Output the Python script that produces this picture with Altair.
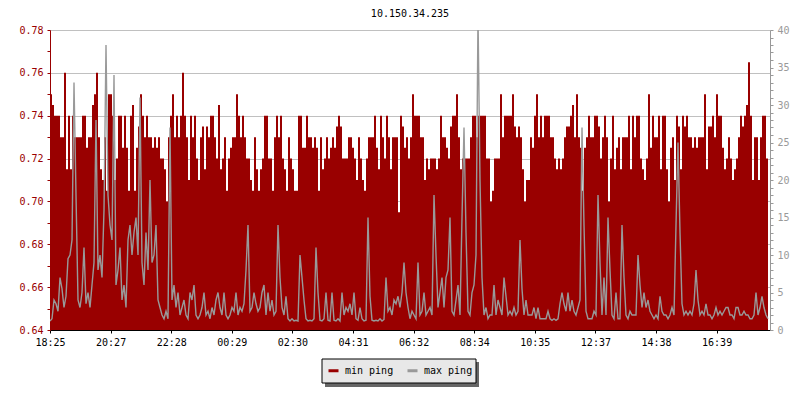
import json
import altair as alt
import pandas as pd

chart_title = "10.150.34.235"
series_names = ["min ping", "max ping"]
series_colors = ["#990000", "#999999"]
x_tick_labels = ["18:25", "20:27", "22:28", "00:29", "02:30", "04:31",
                 "06:32", "08:34", "10:35", "12:37", "14:38", "16:39"]
minutes_per_sample = 4

# left axis series
min_ping = [
    0.750, 0.745, 0.740, 0.740, 0.740, 0.730, 0.730, 0.760, 0.715, 0.740,
    0.715, 0.740, 0.730, 0.730, 0.730, 0.730, 0.740, 0.740, 0.725, 0.730,
    0.730, 0.745, 0.750, 0.760, 0.730, 0.715, 0.710, 0.730, 0.705, 0.750,
    0.750, 0.740, 0.710, 0.720, 0.740, 0.740, 0.725, 0.740, 0.725, 0.705,
    0.740, 0.745, 0.705, 0.725, 0.735, 0.750, 0.740, 0.730, 0.740, 0.730,
    0.730, 0.725, 0.730, 0.725, 0.730, 0.720, 0.720, 0.715, 0.700, 0.730,
    0.740, 0.750, 0.730, 0.740, 0.730, 0.740, 0.760, 0.740, 0.730, 0.710,
    0.740, 0.730, 0.740, 0.720, 0.710, 0.730, 0.735, 0.715, 0.735, 0.730,
    0.740, 0.740, 0.730, 0.720, 0.745, 0.715, 0.720, 0.730, 0.705, 0.720,
    0.725, 0.730, 0.730, 0.750, 0.740, 0.730, 0.740, 0.730, 0.720, 0.720,
    0.710, 0.705, 0.730, 0.715, 0.705, 0.715, 0.720, 0.740, 0.740, 0.720,
    0.720, 0.705, 0.730, 0.740, 0.730, 0.740, 0.720, 0.715, 0.705, 0.730,
    0.720, 0.715, 0.705, 0.705, 0.740, 0.740, 0.725, 0.725, 0.740, 0.730,
    0.730, 0.725, 0.730, 0.725, 0.705, 0.730, 0.715, 0.720, 0.730, 0.720,
    0.725, 0.730, 0.725, 0.735, 0.740, 0.735, 0.720, 0.720, 0.720, 0.730,
    0.730, 0.725, 0.720, 0.710, 0.730, 0.720, 0.710, 0.705, 0.720, 0.730,
    0.730, 0.730, 0.740, 0.725, 0.715, 0.740, 0.730, 0.720, 0.740, 0.730,
    0.715, 0.730, 0.730, 0.730, 0.695, 0.740, 0.735, 0.725, 0.730, 0.720,
    0.730, 0.750, 0.740, 0.740, 0.740, 0.730, 0.730, 0.710, 0.720, 0.715,
    0.720, 0.720, 0.720, 0.715, 0.720, 0.740, 0.730, 0.730, 0.725, 0.720,
    0.735, 0.740, 0.740, 0.750, 0.730, 0.715, 0.720, 0.720, 0.720, 0.720,
    0.730, 0.740, 0.740, 0.730, 0.740, 0.740, 0.740, 0.740, 0.720, 0.720,
    0.700, 0.705, 0.720, 0.720, 0.720, 0.750, 0.730, 0.740, 0.740, 0.740,
    0.740, 0.750, 0.735, 0.730, 0.735, 0.730, 0.715, 0.700, 0.710, 0.710,
    0.730, 0.725, 0.740, 0.750, 0.730, 0.740, 0.730, 0.740, 0.740, 0.740,
    0.730, 0.730, 0.720, 0.715, 0.720, 0.715, 0.720, 0.730, 0.735, 0.735,
    0.740, 0.745, 0.730, 0.750, 0.730, 0.725, 0.705, 0.725, 0.730, 0.740,
    0.730, 0.730, 0.740, 0.740, 0.735, 0.720, 0.730, 0.740, 0.730, 0.700,
    0.720, 0.740, 0.715, 0.725, 0.730, 0.715, 0.730, 0.730, 0.730, 0.740,
    0.715, 0.740, 0.730, 0.740, 0.740, 0.720, 0.715, 0.710, 0.720, 0.750,
    0.725, 0.740, 0.730, 0.730, 0.740, 0.715, 0.740, 0.740, 0.715, 0.700,
    0.725, 0.730, 0.710, 0.740, 0.735, 0.715, 0.740, 0.735, 0.740, 0.730,
    0.730, 0.725, 0.730, 0.725, 0.730, 0.730, 0.730, 0.750, 0.715, 0.735,
    0.735, 0.740, 0.730, 0.750, 0.740, 0.740, 0.725, 0.715, 0.720, 0.730,
    0.720, 0.710, 0.715, 0.720, 0.730, 0.740, 0.735, 0.740, 0.745, 0.765,
    0.740, 0.710, 0.730, 0.730, 0.710, 0.730, 0.740, 0.740, 0.720, 0.725,
]

# right axis series
max_ping = [
    1.2, 1.5, 4, 3.5, 2.5, 7, 5.5, 3, 4.5, 9.5,
    10, 12, 33, 18, 4, 3, 5, 11, 3.5, 5,
    3, 6, 9, 28, 8, 10, 7, 16, 38, 18,
    14, 12, 34, 6, 8, 11, 4, 6, 3, 12,
    14, 10, 13, 15, 10, 31, 9, 6, 13, 8,
    20, 9, 10, 14, 4, 3, 2, 1.5, 2.5, 1.5,
    27, 4, 6, 3, 5, 2, 3, 4, 2, 1.5,
    5, 4, 6, 2, 1.5, 2, 3, 5, 2, 2.5,
    1.5, 3, 2, 4, 5, 3, 2, 5, 2, 1.5,
    2, 3, 2.5, 5, 2, 3, 2.5, 3.5, 8, 14,
    2.5, 3, 5, 3.5, 2.5, 3, 5, 6, 2, 5,
    2.5, 4, 2, 2.5, 14, 7, 3, 2, 4.5, 1.5,
    1.2, 1.5, 1.2, 1.3, 1.2, 10, 7, 4, 1.5, 1.2,
    1.3, 1.2, 1.5, 11, 5, 1.3, 1.2, 1.5, 5, 1.3,
    1.2, 5, 1.3, 1.2, 1.5, 1.2, 5, 2, 3, 2.5,
    3.5, 2, 5, 1.5, 1.3, 3, 1.5, 1.2, 1.3, 15,
    4.5, 1.3, 1.2, 1.3, 1.2, 1.5, 1.2, 1.4, 7, 2.5,
    3, 2, 4, 3.5, 4.5, 3, 5, 9, 5, 3,
    1.5, 2.5, 2, 1.5, 9, 2, 2.5, 5, 2, 2.5,
    3, 2, 18, 10, 3, 5, 7, 3, 7, 8,
    15, 2.5, 2, 4, 6, 2, 15, 27, 13, 2.5,
    2, 5, 6, 10, 42, 20, 7, 2, 3, 1.5,
    2, 2, 6, 2, 4, 3, 2, 7, 4.5, 2,
    2.5, 2, 3, 2, 2.5, 12, 5.5, 2, 4, 2,
    2, 2, 3, 1.5, 3, 1.5, 1.5, 1.5, 1.5, 2.5,
    1.5, 1.3, 1.5, 1.3, 1.5, 3.5, 5, 3.5, 2.5, 5,
    2.5, 4, 2.5, 2, 3, 4, 27, 14, 2.5, 1.5,
    1.5, 1.5, 2.5, 2, 18, 9, 2, 7, 2, 15,
    8, 2, 1.5, 5, 1.5, 1.5, 14, 7, 2, 1.5,
    2.5, 2, 2, 2, 10, 6, 3, 5, 3, 4,
    2.5, 2, 1.5, 2, 1.5, 4.5, 2.5, 2, 2, 1.5,
    2, 3, 2, 14, 25, 13, 3.5, 2, 2.5, 2,
    2.5, 2, 3.5, 8, 4, 2, 2.5, 2, 3.5, 2,
    2, 1.5, 2, 3, 2, 2.5, 2, 2.5, 3, 3,
    2, 2, 1.5, 3, 3, 2, 2, 2.5, 2, 2,
    1.5, 1.5, 2, 5, 2, 3, 4.5, 3, 2, 1.5,
]

df = pd.DataFrame({
    "t": [i * minutes_per_sample for i in range(len(min_ping))],
    "min_ping": min_ping,
    "max_ping": max_ping,
})

FONT = "DejaVu Sans Mono"
W, H = 720, 300
TOTAL_MIN = 1440
tick_step = 121.2
x_tick_values = [round(i * tick_step, 1) for i in range(len(x_tick_labels))]
x_label_expr = json.dumps(x_tick_labels) + "[round(datum.value / %s)]" % tick_step

x_scale = alt.Scale(domain=[0, TOTAL_MIN], nice=False, zero=False)
x_axis = alt.Axis(values=x_tick_values, labelExpr=x_label_expr, title=None, grid=False,
                  domainColor="black", tickColor="black", labelColor="black",
                  labelFont=FONT, labelFontSize=10, tickSize=3, labelPadding=4,
                  labelFlush=False, labelOverlap=False)
x_enc = alt.X("t:Q", scale=x_scale, axis=x_axis)

left_vals = [round(0.64 + 0.01 * i, 2) for i in range(15)]
left_major = "round(datum.value * 100) % 2 == 0"
y_left = alt.Y(
    "min_ping:Q",
    scale=alt.Scale(domain=[0.64, 0.78], nice=False, zero=False),
    axis=alt.Axis(values=left_vals, title=None,
                  labelExpr=left_major + " ? format(datum.value, '.2f') : ''",
                  domainColor="#990000", tickColor="#990000", labelColor="#990000",
                  labelFont=FONT, labelFontSize=10, tickSize=3, labelPadding=4,
                  labelOverlap=False, grid=True, gridColor="#c0c0c0",
                  gridOpacity={"condition": {"test": left_major, "value": 1}, "value": 0}),
)

right_vals = list(range(0, 41))
y_right = alt.Y(
    "max_ping:Q",
    scale=alt.Scale(domain=[0, 40], nice=False, zero=True),
    axis=alt.Axis(values=right_vals, title=None, orient="right",
                  labelExpr="datum.value % 5 == 0 ? datum.value : ''",
                  domainColor="#999999", tickColor="#999999", labelColor="#999999",
                  labelFont=FONT, labelFontSize=10, tickSize=3, labelPadding=4,
                  labelOverlap=False, grid=False),
)

area = alt.Chart(df).mark_area(interpolate="step-after", color=series_colors[0]).encode(
    x=x_enc, y=y_left, y2=alt.datum(0.64)
)

line = alt.Chart(df).mark_line(interpolate="linear", color=series_colors[1],
                               strokeWidth=1.4, clip=True).encode(
    x=x_enc, y=y_right
)

legend_layer = alt.Chart(
    alt.Data(values=[{"series": s, "t": None, "v": None} for s in series_names])
).mark_line().encode(
    x=x_enc,
    y=alt.Y("v:Q", scale=alt.Scale(domain=[0, 1]), axis=None),
    color=alt.Color("series:N",
                    scale=alt.Scale(domain=series_names, range=series_colors),
                    legend=alt.Legend(title=None, orient="none", legendX=277, legendY=334,
                                      direction="horizontal", symbolType="stroke",
                                      symbolSize=100, symbolStrokeWidth=3, symbolOpacity=1,
                                      labelFont=FONT, labelFontSize=10, labelColor="black",
                                      columnPadding=7, labelOffset=5, padding=0)),
)

one = alt.Data(values=[{}])
shadow = alt.Chart(one).mark_rect(color="#666666").encode(
    x=alt.value(275), x2=alt.value(429), y=alt.value(332), y2=alt.value(357)
)
box = alt.Chart(one).mark_rect(fill="#e8e8e8", stroke="black", strokeWidth=1).encode(
    x=alt.value(272), x2=alt.value(426), y=alt.value(329), y2=alt.value(353)
)

chart = alt.layer(area, line, legend_layer, shadow, box).resolve_scale(
    y="independent"
).properties(
    width=W, height=H,
    title=alt.TitleParams(text=chart_title, font=FONT, fontSize=10, fontWeight="normal",
                          color="black", anchor="middle", frame="group", offset=6),
    padding={"left": 42, "top": 22, "right": 22, "bottom": 60},
    autosize=alt.AutoSizeParams(type="none"),
).configure_view(stroke=None).configure(background="white")

chart.save("out.html", embed_options={"renderer": "svg", "actions": False})
